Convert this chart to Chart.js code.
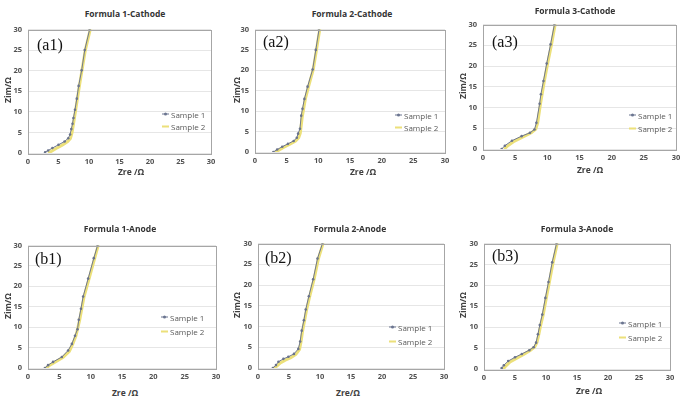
<!DOCTYPE html>
<html>
<head>
<meta charset="utf-8">
<script src="https://cdn.jsdelivr.net/npm/chart.js@4.4.1/dist/chart.umd.min.js"></script>
<style>
    body { margin: 0; width: 687px; height: 397px; background: #fff; position: relative; overflow: hidden; font-family: "Open Sans", sans-serif; }
    canvas { position: absolute; }
    .txt { position: absolute; white-space: nowrap; transform: translate(-50%, -50%); }
    .title { font-size: 8.5px; font-weight: bold; color: #333; }
    .axt { font-size: 8.5px; font-weight: bold; color: #404040; }
    .ylab { transform: translate(-50%, -50%) rotate(-90deg); }
    .tag { position: absolute; font-family: "Liberation Serif", serif; font-size: 16px; color: #111; transform: translateY(-50%); }
    .leg { position: absolute; font-size: 8px; color: #595959; display: flex; align-items: center; transform: translateY(-50%); }
    .mk { position: relative; width: 7px; height: 0; margin-right: 2px; }
    .mk.s1 { border-top: 1px solid #6b7590; }
    .mk.s1::after { content: ""; position: absolute; left: 2px; top: -2px; width: 3px; height: 3px; border-radius: 50%; background: #6b7590; }
    .mk.s2 { border-top: 2px solid #ece07a; }
</style>
</head>
<body>
<script>
/* ================= DATA ================= */
const seriesNames = ["Sample 1", "Sample 2"];
const axisMin = 0;
const axisMax = 30;
const axisStep = 5;

// (a1) Formula 1-Cathode
const a1S1Zre = [2.8, 3.3, 4.0, 5.0, 6.0, 6.6, 6.9, 7.1, 7.3, 7.45, 7.7, 8.0, 8.3, 8.8, 9.3, 10.1];
const a1S1Zim = [0.2, 0.6, 1.2, 2.0, 2.8, 3.6, 4.5, 5.8, 7.1, 8.5, 10.5, 13.2, 16.3, 20.1, 25.0, 30.0];
const a1S2Zre = [3.3, 3.8, 4.6, 5.6, 6.5, 6.95, 7.2, 7.45, 7.85, 8.45, 9.4, 10.25];
const a1S2Zim = [0.0, 0.4, 1.1, 1.9, 2.8, 3.5, 4.8, 7.0, 10.8, 16.5, 25.0, 30.3];

// (a2) Formula 2-Cathode
const a2S1Zre = [2.9, 3.5, 4.3, 5.2, 6.1, 6.6, 6.8, 7.1, 7.3, 7.5, 7.8, 8.3, 9.1, 9.6, 10.1];
const a2S1Zim = [0.0, 0.6, 1.3, 2.0, 2.7, 3.5, 4.5, 5.7, 8.9, 10.6, 13.0, 16.0, 20.2, 25.0, 29.9];
const a2S2Zre = [3.2, 3.7, 4.5, 5.5, 6.4, 6.9, 7.15, 7.45, 7.95, 8.45, 9.2, 9.7, 10.25];
const a2S2Zim = [0.0, 0.4, 1.1, 1.9, 2.7, 3.5, 4.6, 8.5, 13.0, 16.0, 20.2, 25.0, 30.3];

// (a3) Formula 3-Cathode
const a3S1Zre = [2.9, 3.4, 4.5, 6.0, 7.3, 8.0, 8.3, 8.8, 9.0, 9.4, 9.9, 10.5, 11.1];
const a3S1Zim = [0.0, 0.8, 2.0, 3.1, 3.9, 4.7, 6.3, 10.9, 13.2, 16.4, 20.6, 25.2, 30.0];
const a3S2Zre = [3.3, 3.8, 4.9, 6.3, 7.5, 8.2, 8.5, 8.95, 9.55, 10.05, 10.65, 11.25];
const a3S2Zim = [0.0, 0.7, 1.9, 3.0, 3.9, 4.8, 6.3, 11.0, 16.5, 20.6, 25.2, 30.3];

// (b1) Formula 1-Anode
const b1S1Zre = [2.7, 3.2, 4.0, 5.4, 6.4, 7.0, 7.5, 7.9, 8.1, 8.45, 8.8, 9.6, 10.5, 11.1];
const b1S1Zim = [0.0, 0.7, 1.5, 2.7, 4.3, 5.9, 7.9, 9.5, 11.8, 14.5, 17.5, 21.9, 26.9, 30.0];
const b1S2Zre = [2.9, 3.4, 4.3, 5.6, 6.6, 7.15, 7.65, 8.25, 8.95, 9.75, 10.65, 11.25];
const b1S2Zim = [0.0, 0.6, 1.4, 2.6, 4.1, 5.9, 7.9, 11.8, 17.5, 21.9, 26.9, 30.3];

// (b2) Formula 2-Anode
const b2S1Zre = [2.4, 2.9, 3.3, 4.1, 4.9, 5.8, 6.5, 6.8, 7.05, 7.4, 7.7, 8.2, 8.9, 9.6, 10.4];
const b2S1Zim = [0.0, 0.7, 1.5, 2.2, 2.7, 3.4, 4.6, 6.4, 9.0, 11.5, 14.1, 17.3, 21.4, 26.4, 30.0];
const b2S2Zre = [2.6, 3.1, 3.6, 4.4, 5.3, 6.1, 6.7, 6.95, 7.2, 7.85, 8.35, 9.05, 9.75, 10.55];
const b2S2Zim = [0.0, 0.5, 1.2, 1.9, 2.5, 3.3, 4.5, 6.4, 9.0, 14.1, 17.3, 21.4, 26.4, 30.3];

// (b3) Formula 3-Anode
const b3S1Zre = [2.85, 3.2, 3.9, 5.0, 6.1, 7.3, 8.0, 8.4, 8.7, 9.0, 9.4, 9.9, 10.4, 11.0, 11.7];
const b3S1Zim = [0.2, 0.9, 1.9, 2.8, 3.6, 4.5, 5.2, 6.3, 8.3, 10.5, 13.0, 17.0, 20.8, 25.5, 30.0];
const b3S2Zre = [3.1, 3.5, 4.2, 5.3, 6.4, 7.5, 8.2, 8.55, 8.85, 9.15, 9.55, 10.05, 10.55, 11.15, 11.85];
const b3S2Zim = [0.0, 0.7, 1.7, 2.6, 3.5, 4.5, 5.3, 6.4, 8.3, 10.5, 13.0, 17.0, 20.8, 25.5, 30.3];

/* ================= PANELS (layout only) ================= */
// plot = [left, top, right, bottom] of the plot area in page pixels
const panels = [
    { tag: "(a1)", title: "Formula 1-Cathode", xt: "Zre /Ω", plot: [28, 27, 211, 153], titleAt: [125, 13], xtAt: [131, 171], ytX: 7,
      tagAt: [37, 45], legAt: [162, 114, 126], s1: [a1S1Zre, a1S1Zim], s2: [a1S2Zre, a1S2Zim] },
    { tag: "(a2)", title: "Formula 2-Cathode", xt: "Zre /Ω", plot: [255, 27, 445, 152], titleAt: [352, 13], xtAt: [363, 171], ytX: 236,
      tagAt: [263, 42], legAt: [395, 115, 127], s1: [a2S1Zre, a2S1Zim], s2: [a2S2Zre, a2S2Zim] },
    { tag: "(a3)", title: "Formula 3-Cathode", xt: "Zre /Ω", plot: [483, 22, 676, 149], titleAt: [575, 10], xtAt: [590, 169], ytX: 462,
      tagAt: [492, 42], legAt: [629, 115, 128], s1: [a3S1Zre, a3S1Zim], s2: [a3S2Zre, a3S2Zim] },
    { tag: "(b1)", title: "Formula 1-Anode", xt: "Zre /Ω", plot: [28, 243, 216, 368], titleAt: [120, 228], xtAt: [125, 392], ytX: 7,
      tagAt: [35, 259], legAt: [161, 317, 331], s1: [b1S1Zre, b1S1Zim], s2: [b1S2Zre, b1S2Zim] },
    { tag: "(b2)", title: "Formula 2-Anode", xt: "Zre/Ω", plot: [258, 241, 444, 368], titleAt: [350, 228], xtAt: [348, 392], ytX: 236,
      tagAt: [265, 258], legAt: [389, 327, 341], s1: [b2S1Zre, b2S1Zim], s2: [b2S2Zre, b2S2Zim] },
    { tag: "(b3)", title: "Formula 3-Anode", xt: "Zre /Ω", plot: [484, 241, 670, 369], titleAt: [577, 228], xtAt: [589, 390], ytX: 462,
      tagAt: [492, 256], legAt: [619, 323, 337], s1: [b3S1Zre, b3S1Zim], s2: [b3S2Zre, b3S2Zim] }
];

const Y_AXIS_W = 22;
const X_AXIS_H = 16;
const PAD_TOP = 8;
const PAD_RIGHT = 10;

// frame around the plot area, like the spreadsheet chart
const frame = {
    id: 'frame',
    afterDraw(chart) {
        const a = chart.chartArea, c = chart.ctx;
        c.save();
        c.strokeStyle = '#a6a6a6';
        c.lineWidth = 1;
        c.strokeRect(Math.round(a.left) + 0.5, Math.round(a.top) + 0.5, Math.round(a.right - a.left), Math.round(a.bottom - a.top));
        c.restore();
    }
};

function toPoints(xs, ys) {
    return xs.map((x, i) => ({ x: x, y: ys[i] }));
}

function addText(cls, text, x, y) {
    const d = document.createElement('div');
    d.className = cls;
    d.textContent = text;
    d.style.left = x + 'px';
    d.style.top = y + 'px';
    document.body.appendChild(d);
    return d;
}

function addLegend(x, y, name, mk) {
    const d = document.createElement('div');
    d.className = 'leg';
    d.style.left = x + 'px';
    d.style.top = y + 'px';
    d.innerHTML = `<span class="mk ${mk}"></span><span>${name}</span>`;
    document.body.appendChild(d);
}

function buildPanel(p) {
    const [l, t, r, b] = p.plot;
    const cv = document.createElement('canvas');
    const cl = l - Y_AXIS_W, ct = t - PAD_TOP;
    const cw = r - cl + PAD_RIGHT, ch = b + X_AXIS_H - ct;
    cv.style.left = cl + 'px';
    cv.style.top = ct + 'px';
    cv.style.width = cw + 'px';
    cv.style.height = ch + 'px';
    cv.width = cw;
    cv.height = ch;
    document.body.appendChild(cv);

    const tickFont = { family: '"Open Sans", sans-serif', size: 7.5, weight: 'bold' };

    new Chart(cv, {
        type: 'scatter',
        data: {
            datasets: [
                {
                    label: seriesNames[0],
                    data: toPoints(p.s1[0], p.s1[1]),
                    showLine: true,
                    borderColor: '#6f7890',
                    borderWidth: 1,
                    pointRadius: 1.3,
                    pointBackgroundColor: '#6a738c',
                    pointBorderWidth: 0,
                    order: 0
                },
                {
                    label: seriesNames[1],
                    data: toPoints(p.s2[0], p.s2[1]),
                    showLine: true,
                    borderColor: '#ece07a',
                    borderWidth: 3,
                    pointRadius: 0,
                    order: 1
                }
            ]
        },
        options: {
            responsive: false,
            animation: false,
            layout: { padding: { top: PAD_TOP, right: PAD_RIGHT, left: 0, bottom: 0 } },
            plugins: { legend: { display: false }, tooltip: { enabled: false } },
            scales: {
                x: {
                    type: 'linear', min: axisMin, max: axisMax,
                    afterFit: s => { s.height = X_AXIS_H; },
                    ticks: { stepSize: axisStep, font: tickFont, color: '#505050', padding: 4, maxRotation: 0 },
                    grid: { display: false, drawTicks: false },
                    border: { display: false }
                },
                y: {
                    type: 'linear', min: axisMin, max: axisMax,
                    afterFit: s => { s.width = Y_AXIS_W; },
                    ticks: { stepSize: axisStep, font: tickFont, color: '#505050', padding: 6 },
                    grid: { color: '#e6e6e6', lineWidth: 1, drawTicks: false },
                    border: { display: false }
                }
            }
        },
        plugins: [frame]
    });

    // texts
    addText('txt title', p.title, p.titleAt[0], p.titleAt[1]);
    addText('txt axt', p.xt, p.xtAt[0], p.xtAt[1]);
    addText('txt axt ylab', 'Zim/Ω', p.ytX, (t + b) / 2);
    addText('tag', p.tag, p.tagAt[0], p.tagAt[1]);
    addLegend(p.legAt[0], p.legAt[1], seriesNames[0], 's1');
    addLegend(p.legAt[0], p.legAt[2], seriesNames[1], 's2');
}

/* ================= INITIALIZATION ================= */
panels.forEach(buildPanel);
</script>
</body>
</html>
